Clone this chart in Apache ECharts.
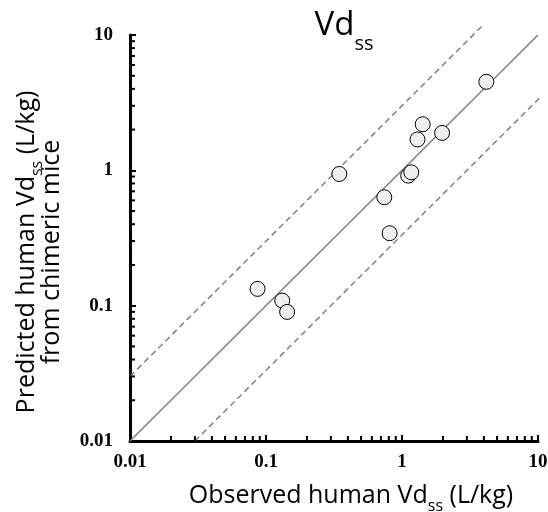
<!DOCTYPE html>
<html>
<head>
<meta charset="utf-8">
<script src="https://cdn.jsdelivr.net/npm/echarts@6/dist/echarts.min.js"></script>
<style>
  html, body { margin: 0; padding: 0; background: #fff; }
  #chart { width: 548px; height: 512px; }
</style>
</head>
<body>
<div id="chart"></div>
<script>
// observed vs predicted human Vdss (L/kg)
const observed = [4.17, 1.42, 1.97, 1.30, 1.11, 1.17, 0.346, 0.741, 0.811, 0.0867, 0.1316, 0.143]
const predicted = [4.51, 2.19, 1.89, 1.69, 0.914, 0.967, 0.94, 0.633, 0.343, 0.133, 0.109, 0.0899]

// line of unity and 3-fold lines
const unityLine = [[0.01, 0.01], [10, 10]]
const upperLine = [[0.01, 0.03], [4, 12]]
const lowerLine = [[0.03, 0.01], [12, 4]]

// minor ticks 2..9 per decade
const minorTicks = []
;[0.01, 0.1, 1].forEach(d => {
    for (let k = 2; k <= 9; k++) {
        minorTicks.push({ v: +(d * k).toPrecision(3), axis: 'x' })
        minorTicks.push({ v: +(d * k).toPrecision(3), axis: 'y' })
    }
})

const labelFont = {
    color: '#000',
    fontFamily: 'Liberation Serif, Times New Roman, serif',
    fontWeight: 'bold',
    fontSize: 19
}
const sansFont = 'Open Sans, Noto Sans, sans-serif'

// rich styles for "Vd" with subscript "ss"
const nameRich = {
    m: { fontFamily: sansFont, fontSize: 25, lineHeight: 25, color: '#000', fontWeight: 'normal' },
    sub: { fontFamily: sansFont, fontSize: 16, lineHeight: 25, color: '#000', fontWeight: 'normal', padding: [22, 0, 0, 0] }
}

const axisCommon = {
    type: 'log',
    logBase: 10,
    min: 0.01,
    max: 10,
    splitLine: { show: false },
    axisLine: { lineStyle: { color: '#000', width: 3 } },
    axisTick: { inside: true, length: 6, lineStyle: { color: '#000', width: 2 } }
}

const chart = echarts.init(document.getElementById('chart'))
chart.setOption({
    animation: false,
    title: {
        text: '{m|Vd}{sub|ss}',
        left: 339,
        top: 3,
        textAlign: 'center',
        textStyle: {
            fontWeight: 'normal',
            rich: {
                m: { fontFamily: sansFont, fontSize: 33, lineHeight: 36, color: '#000', fontWeight: 'normal' },
                sub: { fontFamily: sansFont, fontSize: 20, lineHeight: 36, color: '#000', fontWeight: 'normal', padding: [36, 0, 0, 0] }
            }
        }
    },
    grid: { left: 130, right: 10, top: 35, bottom: 71, outerBoundsMode: 'none', containLabel: false },
    xAxis: Object.assign({}, axisCommon, {
        name: '{m|Observed human Vd}{sub|ss}{m| (L/kg)}',
        nameLocation: 'middle',
        nameGap: 40,
        nameTextStyle: { padding: [0, 0, 0, 34], rich: nameRich },
        axisLabel: Object.assign({}, labelFont, { margin: 12 })
    }),
    yAxis: Object.assign({}, axisCommon, {
        name: '{m|Predicted human Vd}{sub|ss}{m| (L/kg)}\n{m|from chimeric mice}',
        nameLocation: 'middle',
        nameGap: 66,
        nameTextStyle: { padding: [0, 28, 0, 0], rich: nameRich },
        axisLabel: Object.assign({}, labelFont, { margin: 17 })
    }),
    series: [
        {
            type: 'line',
            data: unityLine,
            symbol: 'none',
            clip: false,
            lineStyle: { color: '#808080', width: 1.5 },
            z: 1
        },
        {
            type: 'line',
            data: upperLine,
            symbol: 'none',
            clip: false,
            lineStyle: { color: '#808080', width: 1.5, type: [6, 4] },
            z: 1
        },
        {
            type: 'line',
            data: lowerLine,
            symbol: 'none',
            clip: false,
            lineStyle: { color: '#808080', width: 1.5, type: [6, 4] },
            z: 1
        },
        {
            type: 'custom',
            clip: false,
            silent: true,
            data: minorTicks.map(t => [t.v, t.v]),
            renderItem: function(params, api) {
                const t = minorTicks[params.dataIndex]
                if (t.axis === 'x') {
                    const p = api.coord([t.v, 0.01])
                    return { type: 'line', shape: { x1: p[0], y1: p[1], x2: p[0], y2: p[1] - 5 }, style: { stroke: '#000', lineWidth: 2 } }
                }
                const p = api.coord([0.01, t.v])
                return { type: 'line', shape: { x1: p[0], y1: p[1], x2: p[0] + 5, y2: p[1] }, style: { stroke: '#000', lineWidth: 2 } }
            },
            z: 3
        },
        {
            type: 'scatter',
            data: observed.map((x, i) => [x, predicted[i]]),
            symbol: 'circle',
            symbolSize: 15,
            itemStyle: { color: '#efefef', borderColor: '#000', borderWidth: 1, opacity: 1 },
            z: 5
        }
    ]
})
</script>
</body>
</html>
